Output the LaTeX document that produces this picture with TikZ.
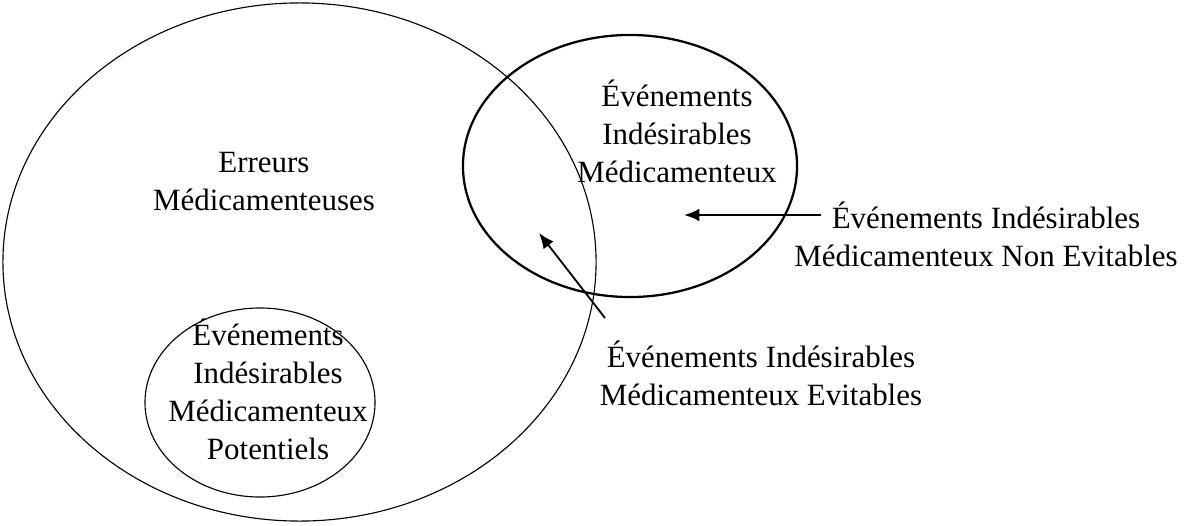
\documentclass[tikz,border=0pt]{standalone}
\usepackage{fontspec}
\setmainfont{Liberation Serif}
\usetikzlibrary{shapes.geometric}
\usetikzlibrary{arrows.meta}

\begin{document}
\begin{tikzpicture}[x=0.025cm,y=-0.025cm]
  \tikzset{ELL/.style={draw, ellipse, inner sep=0pt, line width=0.8pt} }
  \tikzset{TXT/.style={align=center, inner sep=0pt, font=\fontsize{22}{27}\selectfont} }
  \tikzset{ARR/.style={-{Latex[length=11pt,width=9pt]}, line width=1.3pt} }

  \useasboundingbox (0,0) rectangle (1194,525);

  \node[ELL, minimum width=14.825cm, minimum height=12.95cm] (em) at (299.5,262) {};
  \node[ELL, minimum width=5.75cm, minimum height=4.725cm] (eimp) at (260,402.5) {};
  \node[ELL, line width=1.6pt, minimum width=8.35cm, minimum height=6.55cm] (eim) at (630,166) {};

  \node[TXT] (t-em) at (264,182) {Erreurs\\Médicamenteuses};
  \node[TXT] (t-eim) at (677,131) {Événements\\Indésirables\\Médicamenteux};
  \node[TXT] (t-eimp) at (268,389) {Événements\\Indésirables\\Médicamenteux\\Potentiels};
  \node[TXT] (t-nonevit) at (986,234) {Événements Indésirables\\Médicamenteux Non Evitables};
  \node[TXT] (t-evit) at (761,373) {Événements Indésirables\\Médicamenteux Evitables};

  \coordinate (nonevit-tail) at (821,215);
  \coordinate (nonevit-tip) at (684,215);
  \coordinate (evit-start) at (605,318);
  \coordinate (evit-tip) at (539,233);

  \draw[ARR] (nonevit-tail) -- (nonevit-tip);
  \draw[ARR] (evit-start) -- (evit-tip);
\end{tikzpicture}
\end{document}
